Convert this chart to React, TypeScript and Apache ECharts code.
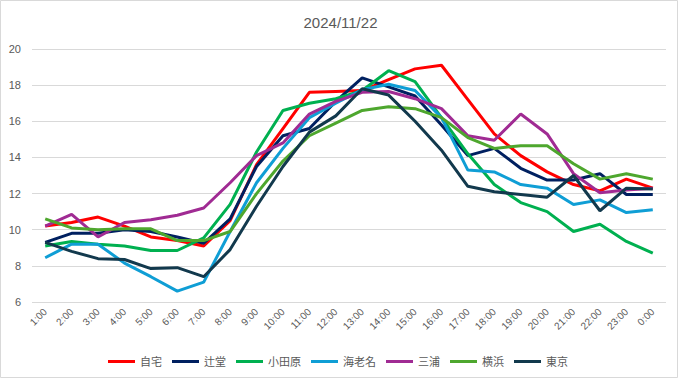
import React, { useEffect, useRef } from "react";
import * as echarts from "echarts";

const hours = ["1:00","2:00","3:00","4:00","5:00","6:00","7:00","8:00","9:00","10:00","11:00","12:00","13:00","14:00","15:00","16:00","17:00","18:00","19:00","20:00","21:00","22:00","23:00","0:00"];

const jitaku = [10.2,10.4,10.7,10.2,9.6,9.4,9.1,10.5,13.6,15.6,17.6,17.65,17.7,18.3,18.9,19.1,17.2,15.3,14.1,13.2,12.5,12.15,12.8,12.3];
const tsujido = [9.3,9.8,9.8,10.0,9.9,9.6,9.25,10.6,13.5,15.2,15.6,17.1,18.4,17.9,17.4,15.8,14.1,14.5,13.4,12.75,12.75,13.1,11.95,11.95];
const odawara = [9.1,9.35,9.2,9.1,8.85,8.85,9.55,11.4,14.3,16.6,17.0,17.25,17.7,18.8,18.2,16.2,14.2,12.5,11.5,11.0,9.9,10.3,9.35,8.7];
const ebina = [8.45,9.2,9.2,8.15,7.4,6.6,7.1,9.9,12.6,14.5,16.2,17.0,17.75,18.05,17.7,16.2,13.3,13.2,12.5,12.3,11.4,11.65,10.95,11.1];
const miura = [10.2,10.85,9.6,10.4,10.55,10.8,11.2,12.6,14.1,14.8,16.4,17.1,17.6,17.65,17.25,16.7,15.2,14.95,16.4,15.3,13.1,12.05,12.2,12.3];
const yokohama = [10.6,10.1,10.0,10.05,10.05,9.4,9.4,9.9,12.0,13.8,15.2,15.9,16.6,16.8,16.7,16.2,15.1,14.5,14.65,14.65,13.65,12.8,13.1,12.8];
const tokyo = [9.3,8.8,8.4,8.35,7.85,7.9,7.4,8.9,11.3,13.5,15.4,16.3,17.8,17.45,16.0,14.4,12.4,12.1,11.95,11.8,13.0,11.05,12.3,12.25];

const seriesNames = ["自宅","辻堂","小田原","海老名","三浦","横浜","東京"];
const seriesData = [jitaku, tsujido, odawara, ebina, miura, yokohama, tokyo];
const seriesColors = ["#FF0000","#002060","#00B050","#0F9ED5","#A02B93","#4EA72E","#12394D"];

const FONT = "'Liberation Sans', 'Noto Sans CJK JP', sans-serif";

export default function App() {
  const ref = useRef<HTMLDivElement>(null);
  useEffect(() => {
    if (!ref.current) return;
    const chart = echarts.init(ref.current, undefined, { renderer: "svg" });
    chart.setOption({
      animation: false,
      backgroundColor: "#ffffff",
      textStyle: { fontFamily: FONT },
      title: {
        text: "2024/11/22",
        left: "center",
        top: 10,
        textStyle: { fontSize: 15, fontWeight: "normal", color: "#595959", fontFamily: FONT },
      },
      graphic: [
        {
          type: "rect",
          shape: { x: 0.5, y: 0.5, width: 677, height: 377 },
          style: { fill: "none", stroke: "#d9d9d9", lineWidth: 1 },
          silent: true,
        },
      ],
      grid: { left: 32, right: 15, top: 49, bottom: 77, containLabel: false },
      legend: {
        left: 103,
        top: 351,
        icon: "rect",
        itemWidth: 27,
        itemHeight: 3,
        itemGap: 10,
        textStyle: { fontSize: 11, color: "#595959", fontFamily: FONT },
        data: seriesNames,
      },
      xAxis: {
        type: "category",
        data: hours,
        boundaryGap: true,
        axisLine: { show: false },
        axisTick: { show: false },
        axisLabel: { rotate: 45, fontSize: 10, color: "#595959", margin: 8, interval: 0, fontFamily: FONT },
      },
      yAxis: {
        type: "value",
        min: 6,
        max: 20,
        interval: 2,
        axisLine: { show: false },
        axisTick: { show: false },
        axisLabel: { fontSize: 11, color: "#595959", margin: 11, fontFamily: FONT },
        splitLine: { lineStyle: { color: "#d9d9d9", width: 1 } },
      },
      series: seriesNames.map((name, i) => ({
        name,
        type: "line",
        data: seriesData[i],
        symbol: "none",
        showSymbol: false,
        lineStyle: { width: 3, color: seriesColors[i] },
        itemStyle: { color: seriesColors[i] },
      })),
    });
    return () => chart.dispose();
  }, []);
  return <div ref={ref} style={{ position: "absolute", left: 0, top: 0, width: 681, height: 379 }} />;
}
